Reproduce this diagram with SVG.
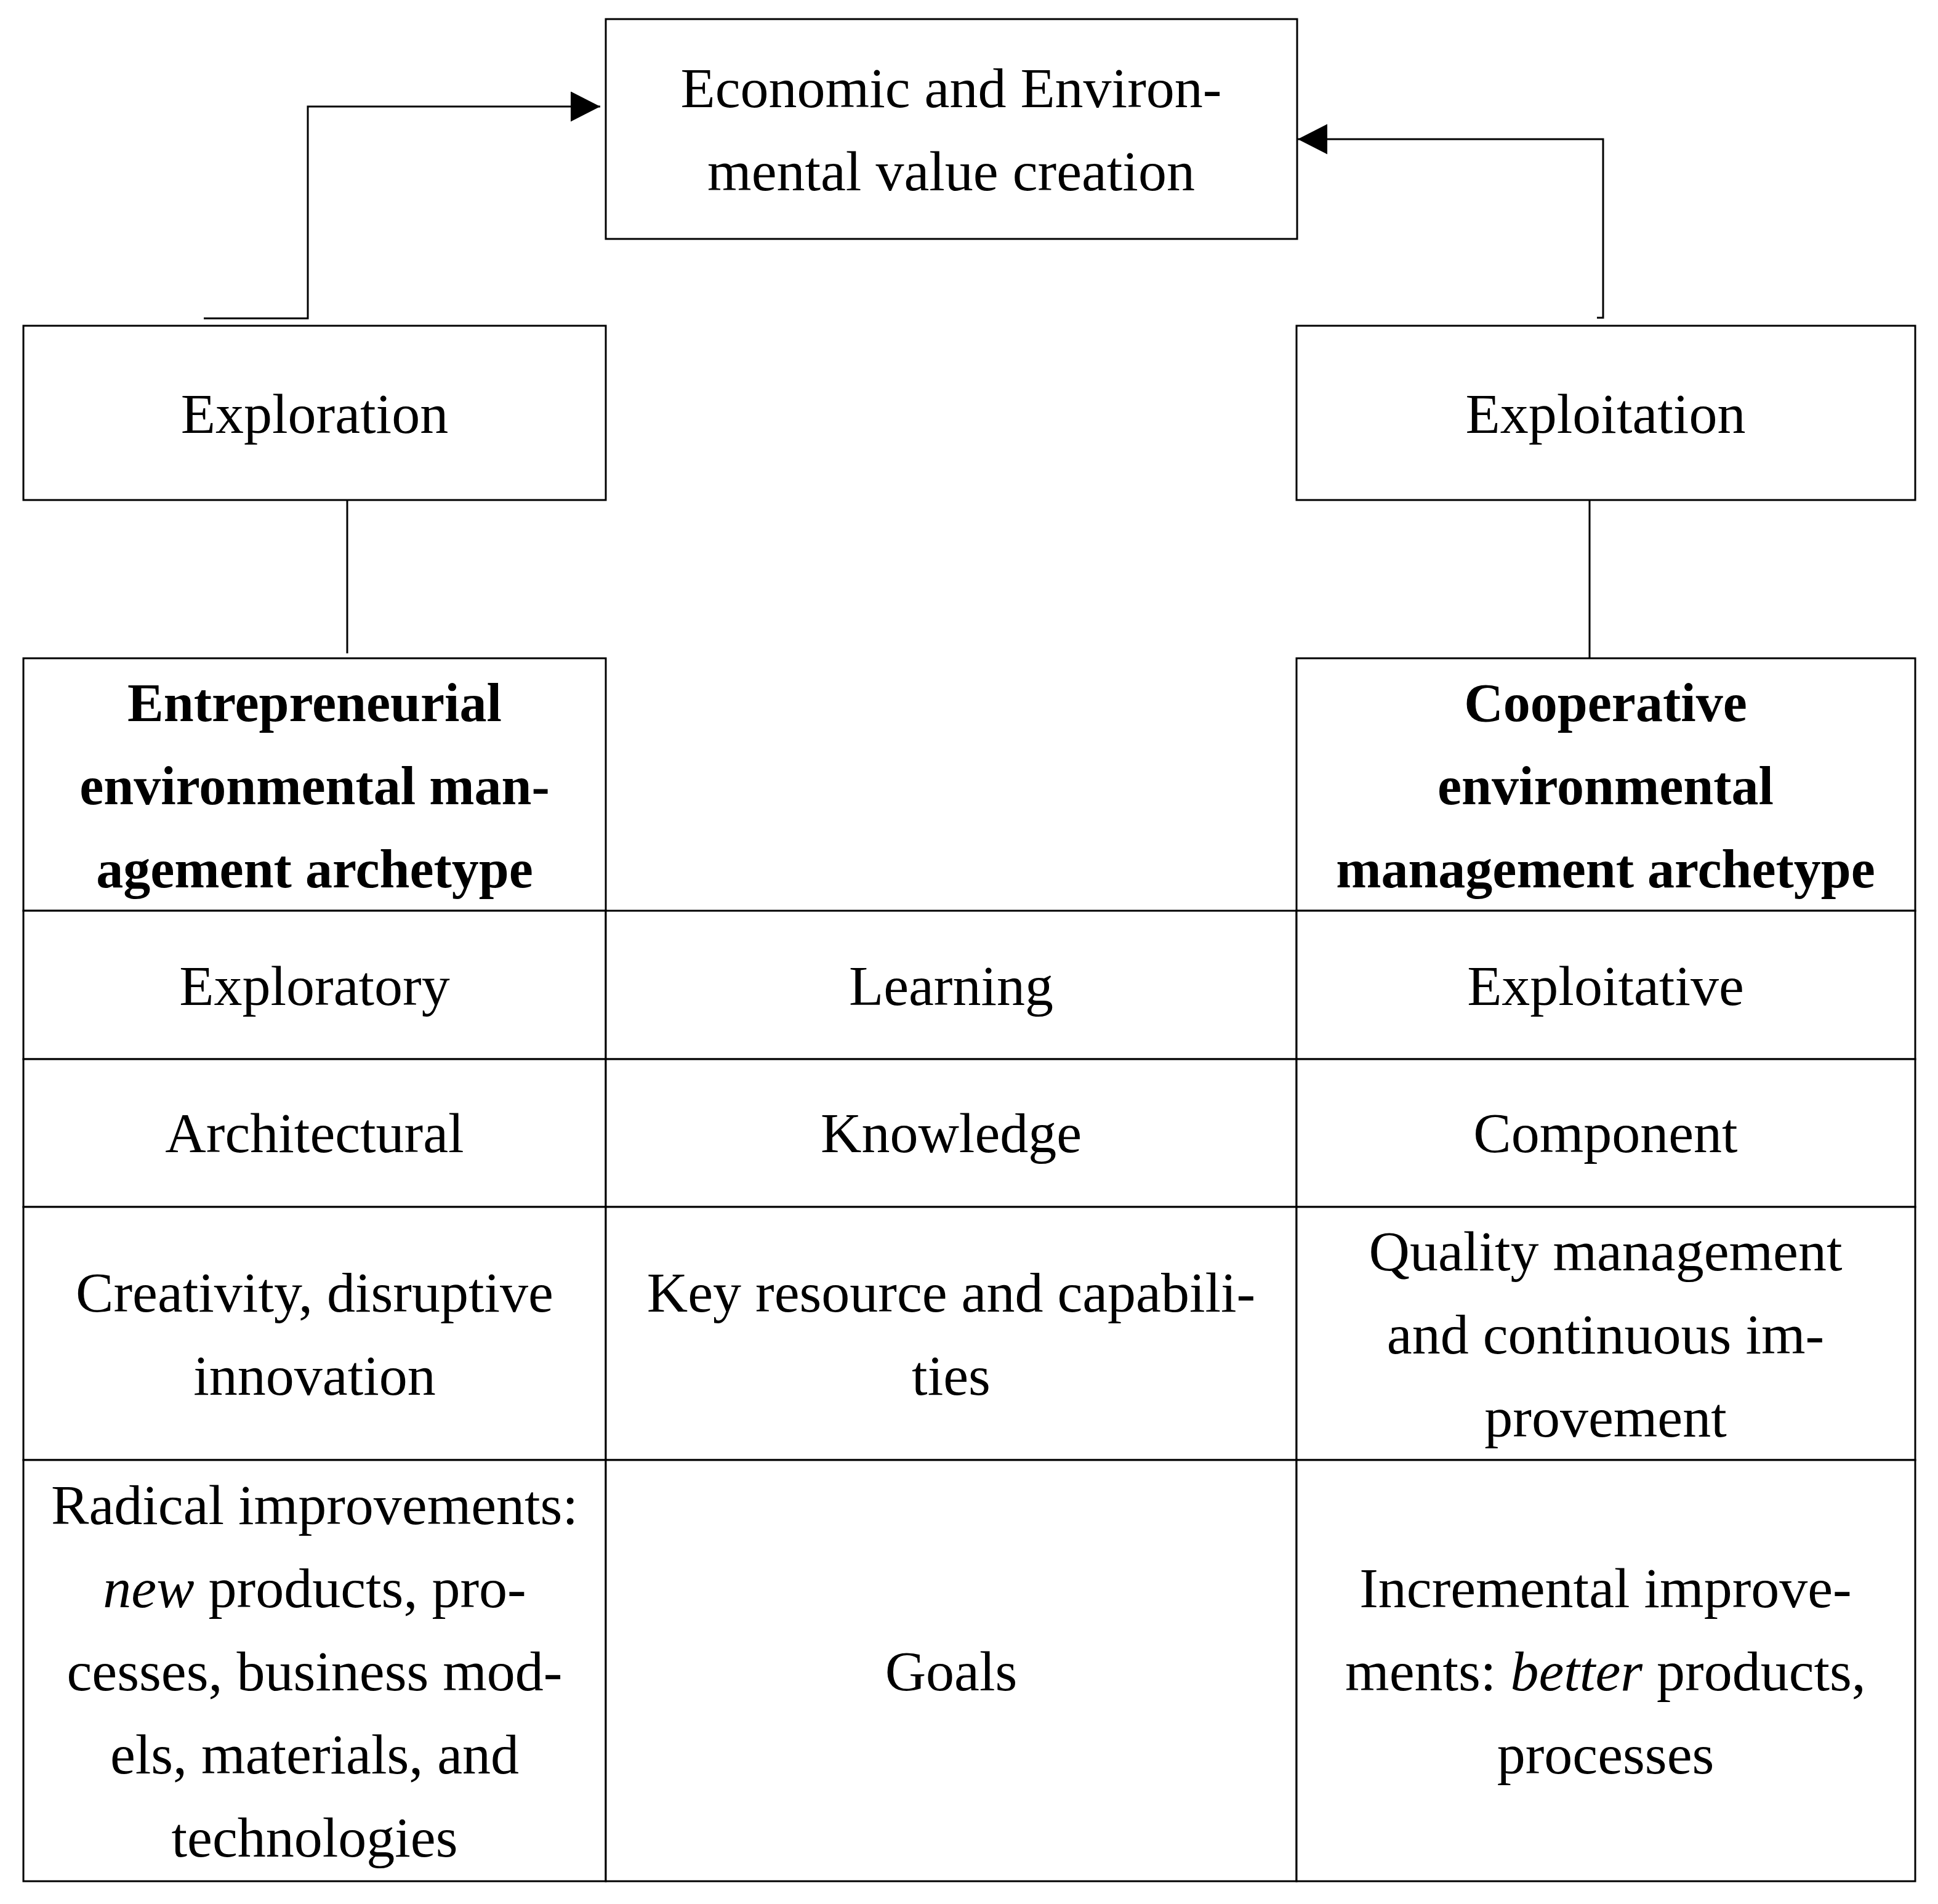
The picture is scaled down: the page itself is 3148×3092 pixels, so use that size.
<svg xmlns="http://www.w3.org/2000/svg" width="3148" height="3092" viewBox="0 0 3148 3092">
<style>
rect{fill:#fff;stroke:#000;stroke-width:3}
text{font-family:"Liberation Serif","Times New Roman",serif;font-size:92px;fill:#000;text-anchor:middle}
.b{font-weight:bold;font-size:88px}
.c{fill:none;stroke:#000;stroke-width:3}
</style>
<defs>
<marker id="ah" markerUnits="userSpaceOnUse" markerWidth="50" markerHeight="50" refX="48" refY="24.5" orient="auto">
<path d="M0,0 L48,24.5 L0,49 Z" fill="#000"/>
</marker>
</defs>
<rect x="0" y="0" width="3148" height="3092" style="stroke:none"/>
<g id="connectors">
<polyline class="c" points="331,517 500,517 500,173 975,173" marker-end="url(#ah)"/>
<polyline class="c" points="2594,516 2604,516 2604,226 2108,226" marker-end="url(#ah)"/>
<line class="c" x1="564" y1="807" x2="564" y2="1061"/>
<line class="c" x1="2582" y1="812" x2="2582" y2="1069"/>
</g>
<g id="value">
<rect x="984" y="31" width="1123" height="357"/>
<text x="1545" y="174">Economic and Environ-</text>
<text x="1545" y="309">mental value creation</text>
</g>
<g id="exploration">
<rect x="38" y="529" width="946" height="283"/>
<text x="511" y="703">Exploration</text>
</g>
<g id="exploitation">
<rect x="2106" y="529" width="1005" height="283"/>
<text x="2608" y="703">Exploitation</text>
</g>
<g id="entrepreneurial">
<rect x="38" y="1069" width="946" height="410"/>
<text class="b" x="511" y="1171">Entrepreneurial</text>
<text class="b" x="511" y="1306">environmental man-</text>
<text class="b" x="511" y="1441">agement archetype</text>
</g>
<g id="cooperative">
<rect x="2106" y="1069" width="1005" height="410"/>
<text class="b" x="2608" y="1171">Cooperative</text>
<text class="b" x="2608" y="1306">environmental</text>
<text class="b" x="2608" y="1441">management archetype</text>
</g>
<g id="row-learning">
<rect x="38" y="1479" width="946" height="241"/>
<rect x="984" y="1479" width="1122" height="241"/>
<rect x="2106" y="1479" width="1005" height="241"/>
<text x="511" y="1632">Exploratory</text>
<text x="1545" y="1632">Learning</text>
<text x="2608" y="1632">Exploitative</text>
</g>
<g id="row-knowledge">
<rect x="38" y="1720" width="946" height="240"/>
<rect x="984" y="1720" width="1122" height="240"/>
<rect x="2106" y="1720" width="1005" height="240"/>
<text x="511" y="1871">Architectural</text>
<text x="1545" y="1871">Knowledge</text>
<text x="2608" y="1871">Component</text>
</g>
<g id="row-resources">
<rect x="38" y="1960" width="946" height="411"/>
<rect x="984" y="1960" width="1122" height="411"/>
<rect x="2106" y="1960" width="1005" height="411"/>
<text x="511" y="2130">Creativity, disruptive</text>
<text x="511" y="2265">innovation</text>
<text x="1545" y="2130">Key resource and capabili-</text>
<text x="1545" y="2265">ties</text>
<text x="2608" y="2063">Quality management</text>
<text x="2608" y="2198">and continuous im-</text>
<text x="2608" y="2333">provement</text>
</g>
<g id="row-goals">
<rect x="38" y="2371" width="946" height="684"/>
<rect x="984" y="2371" width="1122" height="684"/>
<rect x="2106" y="2371" width="1005" height="684"/>
<text x="511" y="2475">Radical improvements:</text>
<text x="511" y="2610"><tspan font-style="italic">new</tspan> products, pro-</text>
<text x="511" y="2745">cesses, business mod-</text>
<text x="511" y="2880">els, materials, and</text>
<text x="511" y="3015">technologies</text>
<text x="1545" y="2745">Goals</text>
<text x="2608" y="2610">Incremental improve-</text>
<text x="2608" y="2745">ments: <tspan font-style="italic">better</tspan> products,</text>
<text x="2608" y="2880">processes</text>
</g>
</svg>
